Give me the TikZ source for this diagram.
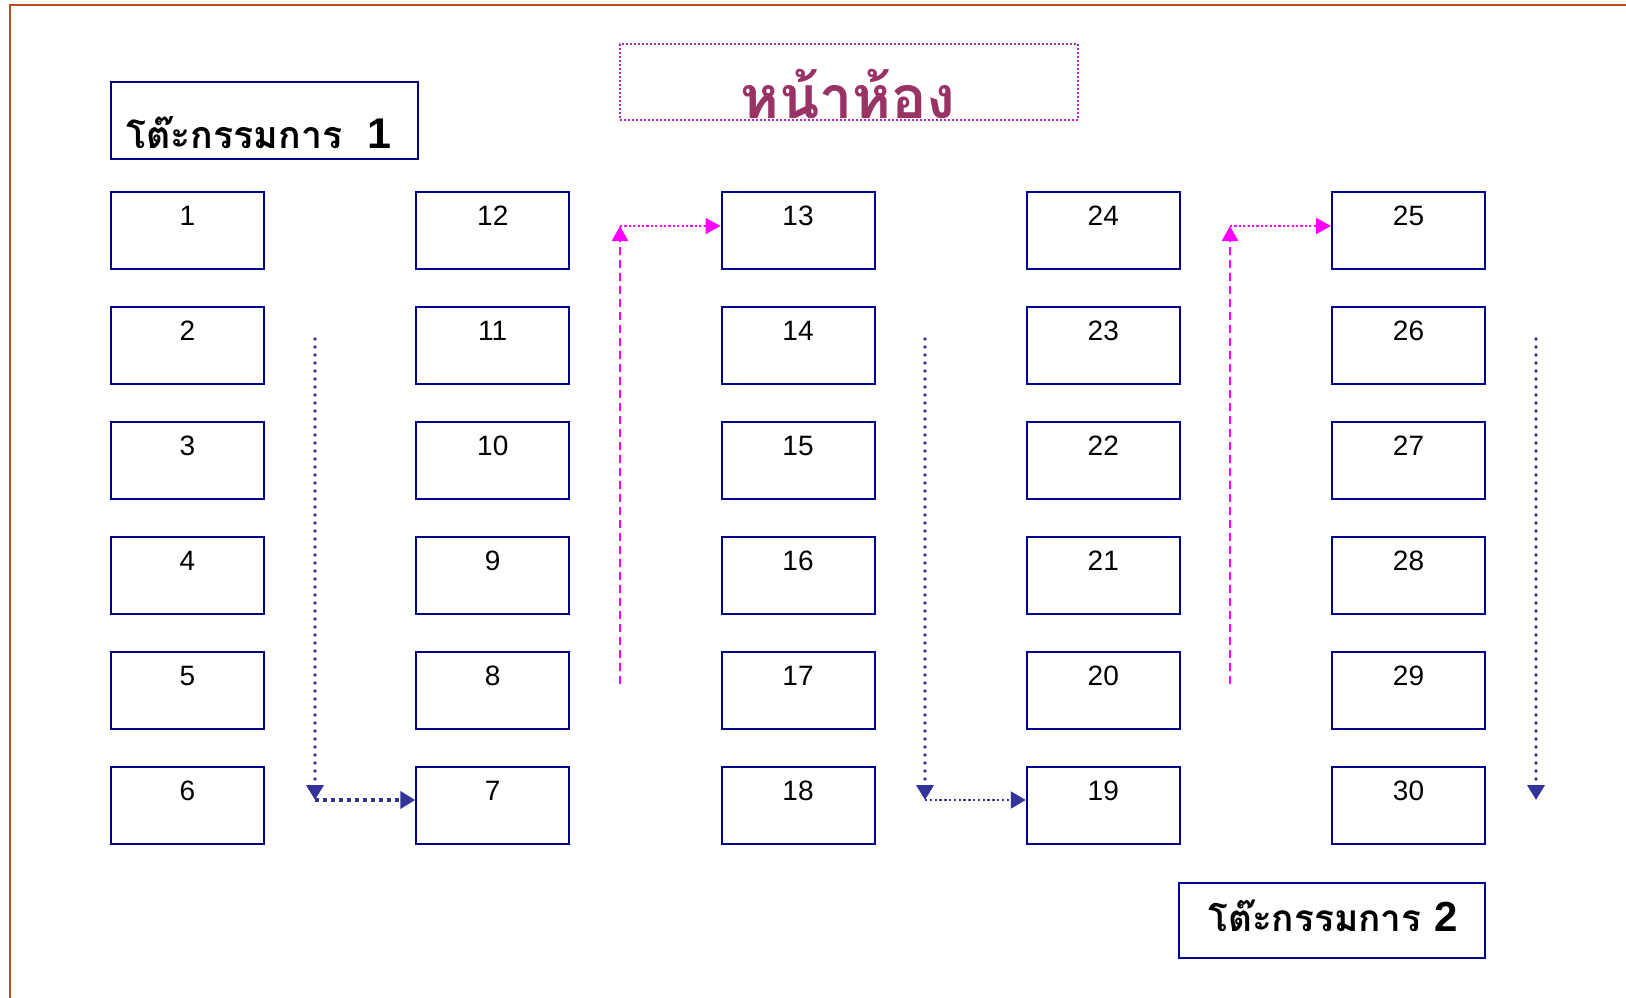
\documentclass[tikz,border=0pt]{standalone}
\usepackage{fontspec}
\setmainfont{Liberation Sans}
\newfontfamily\thaifont[Script=Thai]{Loma}
\usetikzlibrary{arrows.meta}
\definecolor{framecol}{RGB}{184,74,30}
\definecolor{boxcol}{RGB}{0,0,140}
\definecolor{arrblue}{RGB}{51,51,153}
\definecolor{arrmag}{RGB}{255,0,255}
\definecolor{titlebox}{RGB}{180,40,180}
\definecolor{titletext}{RGB}{153,51,102}
\tikzset{
  seat/.style={draw=boxcol, line width=2pt, minimum width=153pt, minimum height=77pt, inner sep=0pt},
  numlab/.style={anchor=center, yshift=-24.7pt, inner sep=0pt, font=\fontsize{28}{32}\selectfont},
  cbox/.style={draw=boxcol, line width=2.2pt, inner sep=0pt},
  bluetip/.style={-{Triangle[length=15pt,width=17pt]}},
  bluev/.style={arrblue, line width=3.6pt, line cap=round, dash pattern=on 0pt off 8pt, bluetip},
  blueh/.style={arrblue, line width=4pt, dash pattern=on 4pt off 4pt, bluetip},
  bluehf/.style={arrblue, line width=2.4pt, dash pattern=on 2.4pt off 2.4pt, bluetip},
  magv/.style={arrmag, line width=2.2pt, dash pattern=on 8pt off 5pt, -{Triangle[length=15pt,width=16pt]}},
  magh/.style={arrmag, line width=2.2pt, dash pattern=on 2.2pt off 2.2pt, -{Triangle[length=15pt,width=16pt]}},
}
\begin{document}
\begin{tikzpicture}[x=1pt,y=-1pt]
\useasboundingbox (0,0) rectangle (1626,998);
\draw[framecol, line width=2.5pt] (10,998) -- (10,5) -- (1626,5);
% title
\node[draw=titlebox, line width=2pt, dash pattern=on 2pt off 2pt, minimum width=458pt, minimum height=76pt, inner sep=0pt] (title) at (849,82) {};
\node[anchor=base, text=titletext, font=\thaifont\bfseries\fontsize{59}{66}\selectfont, inner sep=0pt] (titlet) at (848,118) {หน้าห้อง};
% committee boxes
\node[cbox, minimum width=307pt, minimum height=77pt] (k1) at (264.5,120.5) {};
\node[anchor=base west, inner sep=0pt] (k1t) at (126,148) {\thaifont\bfseries\fontsize{37.5}{50}\selectfont โต๊ะกรรมการ\ \ {\rmfamily\bfseries\fontsize{43}{50}\selectfont 1}};
\node[cbox, minimum width=306pt, minimum height=75pt] (k2) at (1332,920.5) {};
\node[anchor=base west, inner sep=0pt] (k2t) at (1208,931) {\thaifont\bfseries\fontsize{37}{50}\selectfont โต๊ะกรรมการ {\rmfamily\bfseries\fontsize{42}{50}\selectfont 2}};
% seats
\foreach \c in {0,...,4}{
  \foreach \r in {0,...,5}{
    \pgfmathtruncatemacro\n{isodd(\c) ? 6*\c+6-\r : 6*\c+\r+1}
    \node[seat, label={[numlab]north:\n}] (b\n) at ({187.5+305.25*\c},{230.5+115*\r}) {};
  }
}
% arrows
\coordinate (a1s) at (315,339); \coordinate (a1c) at (315,800);
\draw[bluev] (a1s) -- (a1c);
\draw[blueh] (a1c) -- (b7.west |- a1c);
\coordinate (m1s) at (620,684); \coordinate (m1c) at (620,226);
\draw[magv] (m1s) -- (m1c);
\draw[magh] (m1c) -- (b13.west |- m1c);
\coordinate (a2s) at (925,339); \coordinate (a2c) at (925,800);
\draw[bluev] (a2s) -- (a2c);
\draw[bluehf] (a2c) -- (b19.west |- a2c);
\coordinate (m2s) at (1230,684); \coordinate (m2c) at (1230,226);
\draw[magv] (m2s) -- (m2c);
\draw[magh] (m2c) -- (b25.west |- m2c);
\coordinate (a3s) at (1536,339); \coordinate (a3e) at (1536,800);
\draw[bluev] (a3s) -- (a3e);
\end{tikzpicture}
\end{document}
